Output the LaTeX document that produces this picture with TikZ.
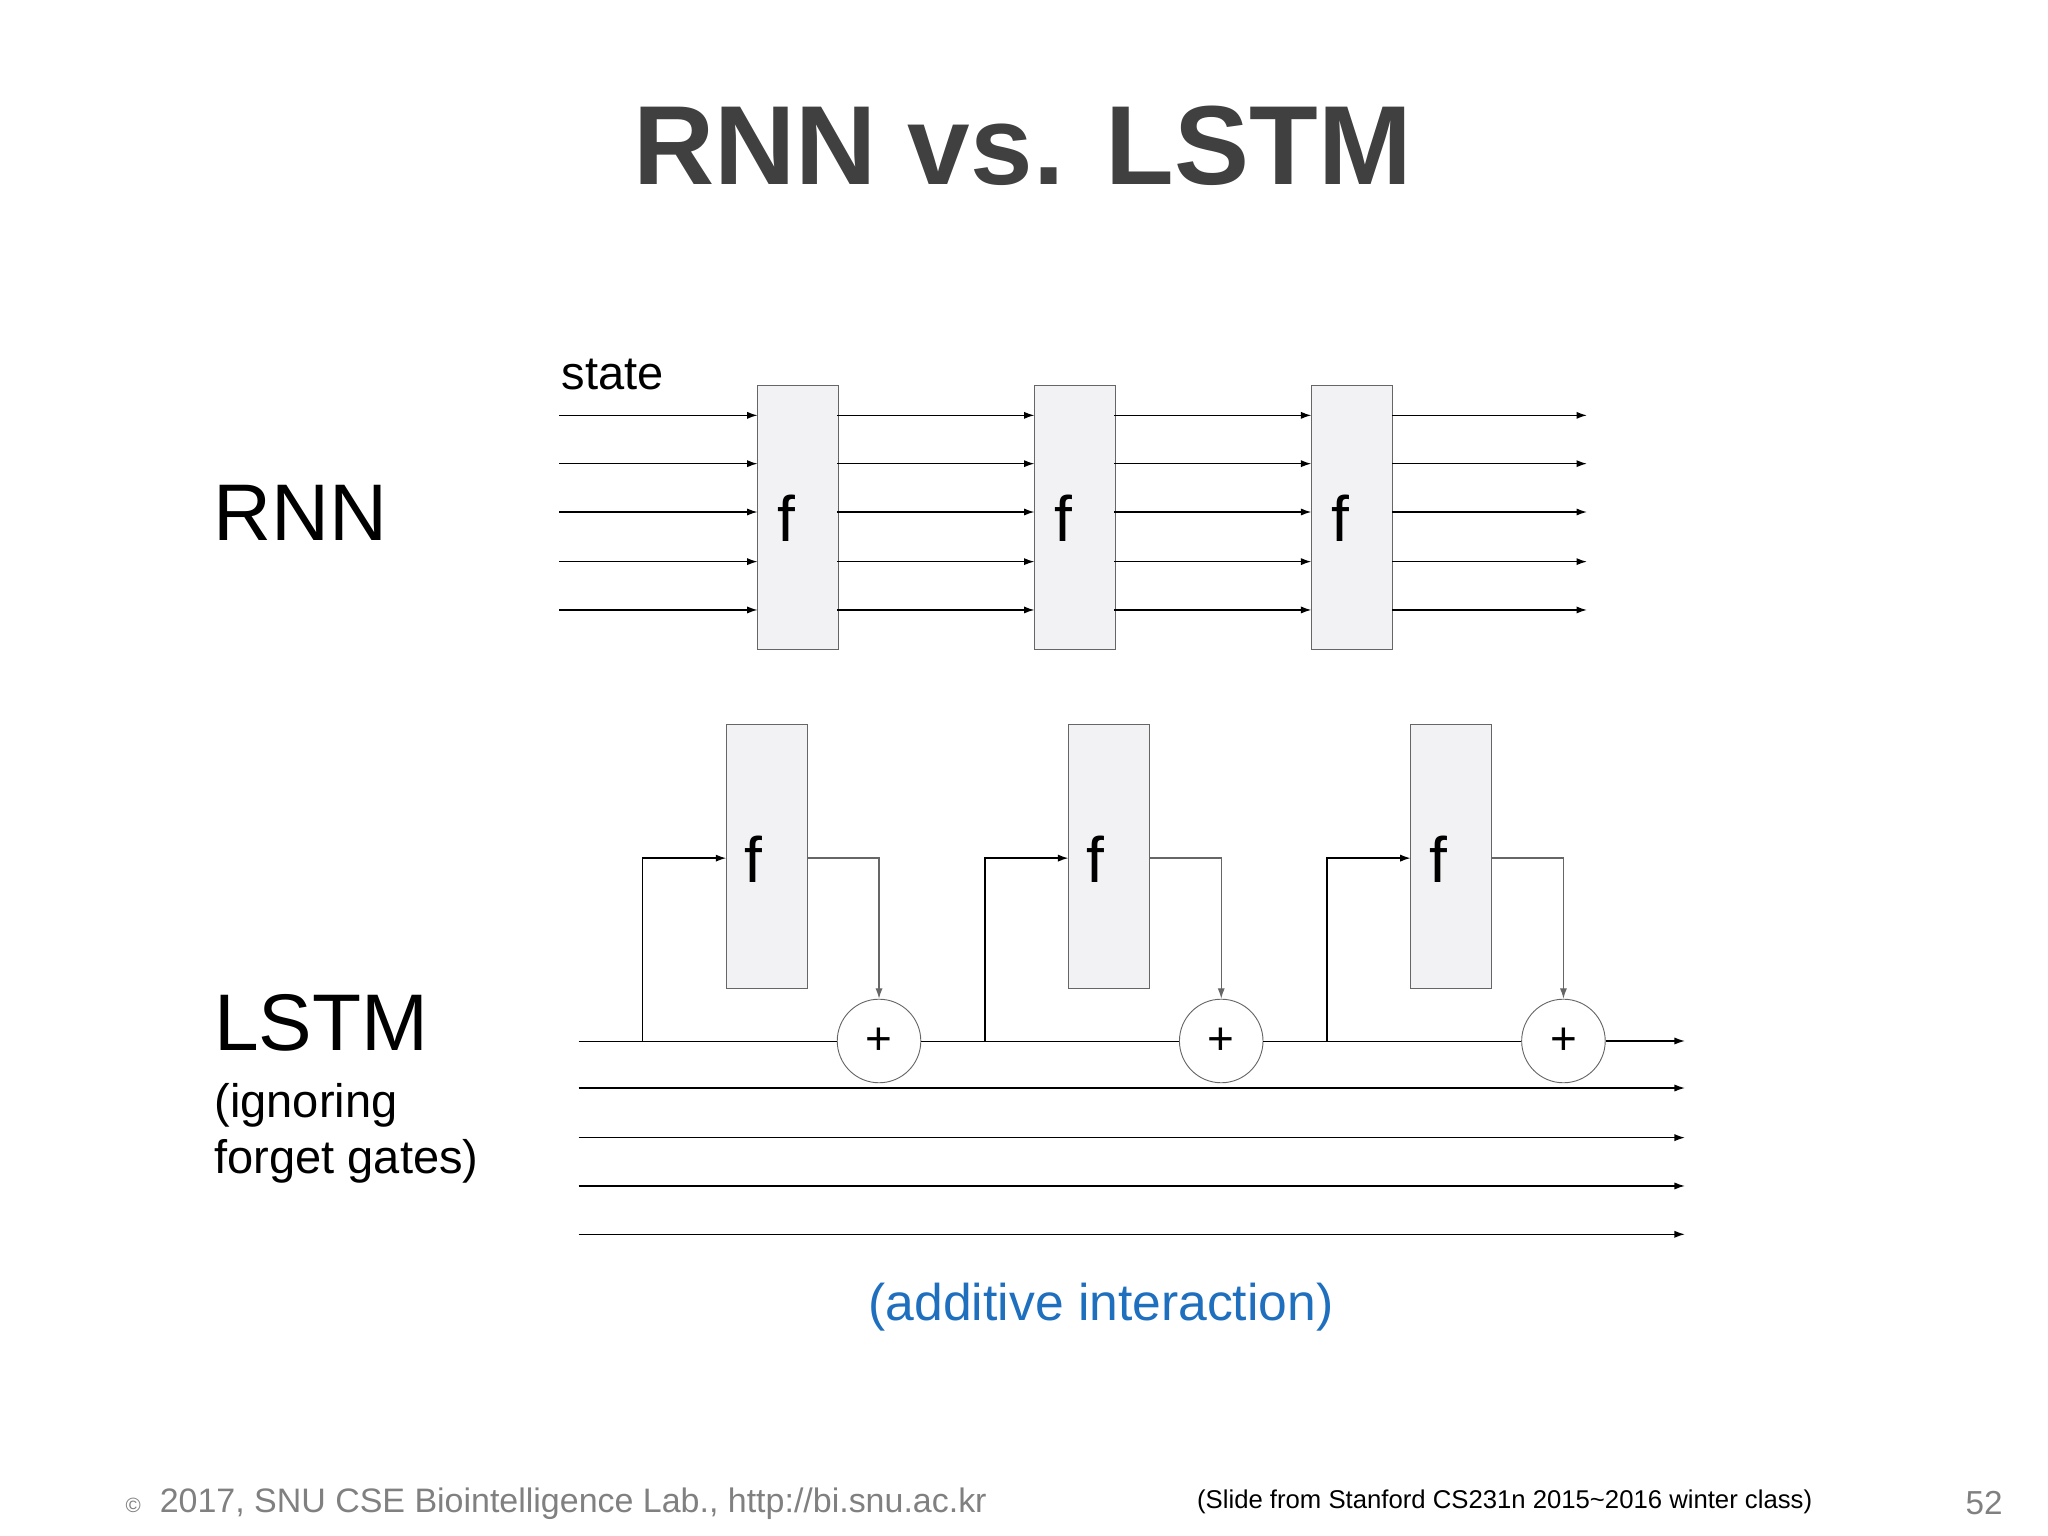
\documentclass[tikz,border=0pt]{standalone}
\usepackage{fontspec}
\setmainfont{Liberation Sans}
\usetikzlibrary{arrows.meta}
\definecolor{boxfill}{HTML}{F2F2F4}
\definecolor{boxline}{HTML}{666666}
\definecolor{titlegray}{HTML}{404040}
\definecolor{footgray}{HTML}{808080}
\definecolor{addblue}{HTML}{1F6FBF}
\newcommand{\fs}[1]{\fontsize{#1}{#1}\selectfont}
\tikzset{
  fbox/.style={draw=boxline, fill=boxfill, minimum width=1.24cm, minimum height=4.04cm, inner sep=0pt},
  flabel/.style={font=\fs{28}},
  plus/.style={circle, draw=boxline, fill=white, minimum size=1.28cm, inner sep=0pt, font=\fs{20}},
  arr/.style={-{Latex[length=1.6mm,width=1.1mm]}, line width=0.6pt},
  garr/.style={-{Latex[length=1.6mm,width=1.1mm]}, line width=0.6pt, draw=boxline},
}
\begin{document}
\begin{tikzpicture}[x=0.02cm,y=-0.02cm]
\useasboundingbox (0,0) rectangle (1568,1176);
\node[font=\fs{49}\bfseries, text=titlegray] (title) at (783,112) {RNN vs. LSTM};
\node[font=\fs{35}] (rnn) at (230,393) {RNN};
\node[font=\fs{20.5}] (state) at (469,287) {state};
% RNN
\foreach \i/\x in {1/611,2/823,3/1035} {
  \node[fbox] (r\i) at (\x,396) {};
  \node[flabel] (rf\i) at (\x-9,397) {f};
}
\foreach \y in {318,355,392,430,467} {
  \draw[arr] (428,\y) -- (580,\y);
  \draw[arr] (641,\y) -- (792,\y);
  \draw[arr] (853,\y) -- (1004,\y);
  \draw[arr] (1066,\y) -- (1215,\y);
}
% LSTM
\node[font=\fs{35}] (lstm) at (246,783) {LSTM};
\node[font=\fs{20.5}, anchor=west] (ign) at (158,846) {(ignoring};
\node[font=\fs{20.5}, anchor=west] (fg) at (158,889) {forget gates)};
\foreach \i/\bx/\px/\sx in {1/587/673/492,2/849/935/754,3/1111/1197/1016} {
  \node[fbox] (l\i) at (\bx,656) {};
  \node[flabel] (lf\i) at (\bx-10,658) {f};
  \node[plus] (p\i) at (\px,797) {+};
  \coordinate (s\i) at (\sx,797);
  \draw[garr, draw=black] (s\i) |- (\bx-31,657);
  \draw[garr] (\bx+31,657) -| (p\i.north);
}
\coordinate (start) at (443,797);
\coordinate (end) at (1290,797);
\draw (start) -- (p1.west);
\draw (p1.east) -- (p2.west);
\draw (p2.east) -- (p3.west);
\draw[arr] (p3.east) -- (end);
\foreach \y in {833,871,908,945} \draw[arr] (443,\y) -- (1290,\y);
\node[font=\fs{22.5}, text=addblue] (add) at (843,1001) {(additive interaction)};
% footer
\node[font=\fs{14.8}, text=footgray, anchor=west] (copy) at (90,1151) {{\fs{9}\textcopyright}\ \ 2017, SNU CSE Biointelligence Lab., http://bi.snu.ac.kr};
\node[font=\fs{11.2}] (src) at (1152,1150) {(Slide from Stanford CS231n 2015\textasciitilde 2016 winter class)};
\node[font=\fs{14.5}, text=footgray] (pg) at (1519,1151) {52};
\end{tikzpicture}
\end{document}
